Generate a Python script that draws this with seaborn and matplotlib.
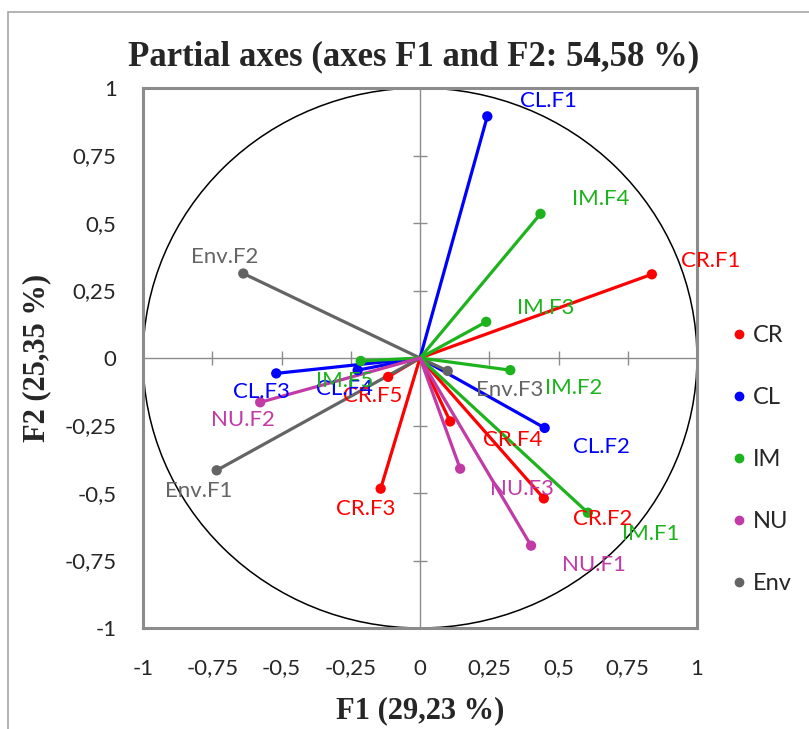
import numpy as np
import pandas as pd
import matplotlib
matplotlib.use("Agg")
import matplotlib.pyplot as plt
from matplotlib.patches import Circle, Rectangle
from matplotlib.lines import Line2D
import seaborn as sns

groups = ["CR", "CL", "IM", "NU", "Env"]
labels = ["CR.F1", "CR.F2", "CR.F3", "CR.F4", "CR.F5",
          "CL.F1", "CL.F2", "CL.F3", "CL.F4",
          "IM.F1", "IM.F2", "IM.F3", "IM.F4", "IM.F5",
          "NU.F1", "NU.F2", "NU.F3",
          "Env.F1", "Env.F2", "Env.F3"]
f1 = [0.837, 0.447, -0.142, 0.109, -0.115,
      0.243, 0.450, -0.519, -0.225,
      0.606, 0.326, 0.239, 0.435, -0.214,
      0.401, -0.577, 0.145,
      -0.734, -0.638, 0.100]
f2 = [0.310, -0.520, -0.484, -0.235, -0.070,
      0.895, -0.259, -0.057, -0.045,
      -0.573, -0.045, 0.134, 0.534, -0.011,
      -0.695, -0.164, -0.410,
      -0.416, 0.313, -0.048]
ticks = [-1, -0.75, -0.5, -0.25, 0, 0.25, 0.5, 0.75, 1]

colors = {"CR": "#FF0000", "CL": "#0000FF", "IM": "#1DB31D",
          "NU": "#C23AA6", "Env": "#646464"}

# label offsets in pixels (dx, dy)
offsets = {
    "CR.F1": (59, 13), "CR.F2": (59, -21), "CR.F3": (-15, -20), "CR.F4": (62, -19), "CR.F5": (-15, -19),
    "CL.F1": (61, 15), "CL.F2": (57, -19), "CL.F3": (-15, -19), "CL.F4": (-13, -19),
    "IM.F1": (63, -21), "IM.F2": (63, -18), "IM.F3": (59, 14), "IM.F4": (60, 15), "IM.F5": (-16, -20),
    "NU.F1": (63, -19), "NU.F2": (-17, -18), "NU.F3": (62, -20),
    "Env.F1": (-18, -21), "Env.F2": (-19, 16), "Env.F3": (62, -19),
}

pts = pd.DataFrame({"label": labels, "F1": f1, "F2": f2})
pts["group"] = pts["label"].str.split(".").str[0]

# each vector as origin -> point
vec = pd.concat([
    pd.DataFrame({"label": labels, "group": pts["group"], "x": 0.0, "y": 0.0, "o": 0}),
    pd.DataFrame({"label": labels, "group": pts["group"], "x": f1, "y": f2, "o": 1}),
]).sort_values(["label", "o"])

sns.set_style("white")
plt.rcParams["font.family"] = ["Lato", "DejaVu Sans"]

fig = plt.figure(figsize=(8.09, 7.29), dpi=100)
ax = fig.add_axes([143 / 809, 1 - 628 / 729, 554 / 809, 540 / 729])

# outer chart border
fig.patches.append(Rectangle((8 / 809, -0.1), 1.2, 1.1 - 12 / 729, transform=fig.transFigure,
                             fill=False, edgecolor="#A6A6A6", linewidth=1.2, clip_on=False))

ax.axhline(0, color="#8C8C8C", linewidth=1, zorder=1)
ax.axvline(0, color="#8C8C8C", linewidth=1, zorder=1)
inner = [t for t in ticks if t not in (-1, 0, 1)]
ax.scatter(inner, np.zeros(len(inner)), marker="|", s=110, color="#8C8C8C", linewidths=1, zorder=1)
ax.scatter(np.zeros(len(inner)), inner, marker="_", s=110, color="#8C8C8C", linewidths=1, zorder=1)
ax.add_patch(Circle((0, 0), 1, fill=False, edgecolor="black", linewidth=1.1, zorder=2))

sns.lineplot(data=vec, x="x", y="y", hue="group", units="label", estimator=None, sort=False,
             palette=colors, linewidth=2.3, legend=False, ax=ax, zorder=3)
sns.scatterplot(data=pts, x="F1", y="F2", hue="group", palette=colors, s=55,
                edgecolor="none", legend=False, ax=ax, zorder=4)

for _, r in pts.iterrows():
    ax.annotate(r["label"], (r["F1"], r["F2"]), xytext=offsets[r["label"]],
                textcoords="offset pixels", ha="center", va="center",
                color=colors[r["group"]], fontsize=16, zorder=5)

ax.set_xlim(-1, 1)
ax.set_ylim(-1, 1)
ax.set_xticks(ticks)
ax.set_yticks(ticks)
fmt = lambda v: ("%g" % v).replace(".", ",")
ax.set_xticklabels([fmt(t) for t in ticks], fontsize=16)
ax.set_yticklabels([fmt(t) for t in ticks], fontsize=16)
ax.tick_params(axis="y", length=0, pad=19)
ax.tick_params(axis="x", length=0, pad=22)
for s in ax.spines.values():
    s.set_color("#8C8C8C")
    s.set_linewidth(2.2)
ax.set_xlabel("")
ax.set_ylabel("")

serif = ["Liberation Serif", "DejaVu Serif"]
fig.text(414 / 809, 1 - 57 / 729, "Partial axes (axes F1 and F2: 54,58 %)", ha="center", va="center",
         fontsize=25, fontweight="bold", family=serif)
fig.text(420 / 809, 1 - 711 / 729, "F1 (29,23 %)", ha="center", va="center",
         fontsize=22, fontweight="bold", family=serif)
fig.text(37 / 809, 1 - 358 / 729, "F2 (25,35 %)", ha="center", va="center", rotation=90,
         fontsize=22, fontweight="bold", family=serif)

handles = [Line2D([], [], marker="o", linestyle="none", color=colors[g], markersize=6) for g in groups]
fig.legend(handles, groups, loc="upper left", bbox_to_anchor=(722 / 809, 1 - 316 / 729),
           frameon=False, fontsize=17, labelspacing=1.73, handlelength=0.6, handletextpad=0.3,
           borderaxespad=0)

fig.savefig("out.png", dpi=100)
